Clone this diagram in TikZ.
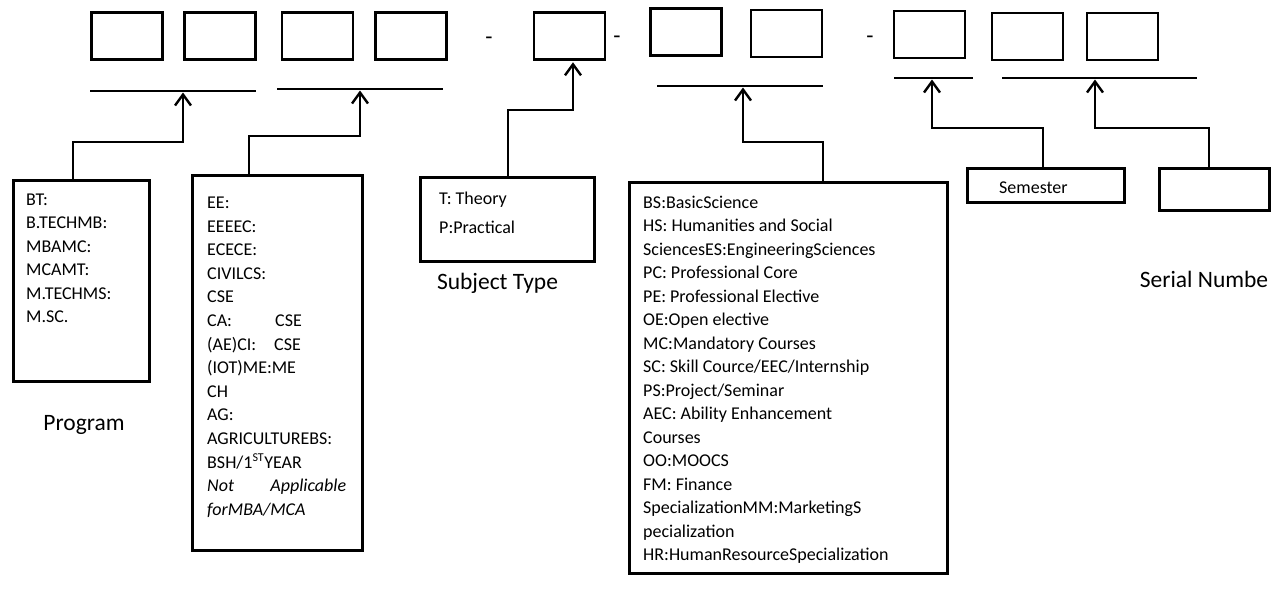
\documentclass[tikz,border=0pt]{standalone}
\usepackage{fontspec}
\setmainfont{Carlito}
\usetikzlibrary{arrows.meta}
\tikzset{
  cell/.style={draw, line width=2.6pt, minimum width=71pt, minimum height=47pt, inner sep=0pt},
  frame/.style={draw, line width=2.6pt, inner sep=0pt},
  uline/.style={line width=2.4pt},
  conn/.style={line width=2.4pt, -{Straight Barb[length=11pt,width=16pt,line width=2.4pt]}},
  txt/.style={anchor=base west, inner sep=0pt, font=\fontsize{18}{20}\selectfont},
  lbl/.style={anchor=base, inner sep=0pt, font=\fontsize{23.5}{26}\selectfont},
  dashtxt/.style={inner sep=0pt, font=\fontsize{23.5}{26}\selectfont},
}
\begin{document}
\begin{tikzpicture}[x=1pt,y=-1pt]
\useasboundingbox (0,0) rectangle (1285,589);
% top cells
\node[cell] (b1) at (127,36) {};
\node[cell] (b2) at (220,36) {};
\node[cell] (b3) at (317.5,36) {};
\node[cell] (b4) at (411,36) {};
\node[dashtxt] (d1) at (489,41) {-};
\node[cell] (b5) at (569.5,36) {};
\node[dashtxt] (d2) at (617,40) {-};
\node[cell] (b6) at (686,32) {};
\node[cell] (b7) at (786.5,33.5) {};
\node[dashtxt] (d3) at (870,40) {-};
\node[cell] (b8) at (929.5,34.5) {};
\node[cell] (b9) at (1027.5,36.5) {};
\node[cell] (b10) at (1122.5,36.5) {};
% underlines
\coordinate (u1l) at (90,91);   \coordinate (u1r) at (256,91);
\coordinate (u2l) at (277,89);  \coordinate (u2r) at (443,89);
\coordinate (u3l) at (657,86);  \coordinate (u3r) at (823,86);
\coordinate (u4l) at (894,78);  \coordinate (u4r) at (973,78);
\coordinate (u5l) at (1002,78); \coordinate (u5r) at (1197,78);
\foreach \k in {1,...,5} \draw[uline] (u\k l) -- (u\k r);
% lower boxes
\node[frame, minimum width=136pt, minimum height=201pt] (prog) at (81.5,281) {};
\node[frame, minimum width=170pt, minimum height=375pt] (branch) at (277.5,363) {};
\node[frame, minimum width=174pt, minimum height=84pt] (subj) at (507.5,219.5) {};
\node[frame, minimum width=318pt, minimum height=391pt] (cat) at (788.5,378) {};
\node[frame, minimum width=157pt, minimum height=34pt] (sem) at (1046,185.5) {};
\node[frame, minimum width=110pt, minimum height=42pt] (ser) at (1214.5,189.5) {};
% connectors
\coordinate (k1) at (73,142);   \coordinate (t1) at (183,92.5);
\coordinate (k2) at (249,136);  \coordinate (t2) at (360,90.5);
\coordinate (k3) at (508,110);
\coordinate (k4) at (823,142);  \coordinate (t4) at (743,87.5);
\coordinate (k5) at (1043,128); \coordinate (t5) at (932,79.5);
\coordinate (k6) at (1209,128); \coordinate (t6) at (1095,79.5);
\draw[conn] (k1 |- prog.north) -- (k1) -| (t1);
\draw[conn] (k2 |- branch.north) -- (k2) -| (t2);
\draw[conn] (k3 |- subj.north) -- (k3) -| ([xshift=3.5pt,yshift=-1.5pt]b5.south);
\draw[conn] (k4 |- cat.north) -- (k4) -| (t4);
\draw[conn] (k5 |- sem.north) -- (k5) -| (t5);
\draw[conn] (k6 |- ser.north) -- (k6) -| (t6);
% texts
\foreach \t [count=\i from 0] in {BT:, B.TECHMB:, MBAMC:, MCAMT:, M.TECHMS:, M.SC.}
  \node[txt] (pt\i) at (26,205.5+23.4*\i) {\t};
\foreach \t [count=\i from 0] in {EE:, EEEEC:, ECECE:, CIVILCS:, CSE,
  {\makebox[68pt][l]{CA:}CSE}, {\makebox[67pt][l]{(AE)CI:}CSE}, (IOT)ME:ME, CH, AG:,
  AGRICULTUREBS:, {BSH/1\textsuperscript{\fontsize{12}{12}\selectfont ST}YEAR},
  {\itshape\makebox[139pt][s]{Not\hfill Applicable}}, {\itshape forMBA/MCA}}
  \node[txt] (bt\i) at (207,208.5+23.6*\i) {\t};
\node[txt] (st0) at (439,204.5) {T: Theory};
\node[txt] (st1) at (439,233.5) {P:Practical};
\foreach \t [count=\i from 0] in {BS:BasicScience, HS: Humanities and Social,
  SciencesES:EngineeringSciences, PC: Professional Core, PE: Professional Elective,
  OE:Open elective, MC:Mandatory Courses, SC: Skill Cource/EEC/Internship,
  PS:Project/Seminar, AEC: Ability Enhancement, Courses, OO:MOOCS, FM: Finance,
  SpecializationMM:MarketingS, pecialization, HR:HumanResourceSpecialization}
  \node[txt] (ct\i) at (643,208.5+23.47*\i) {\t};
\node[txt] (semt) at (999,193.5) {Semester};
\node[lbl] (lprog) at (84,430) {Program};
\node[lbl] (lsubj) at (497.5,289) {Subject Type};
\node[lbl] (lser) at (1204,287) {Serial Numbe};
\end{tikzpicture}
\end{document}
